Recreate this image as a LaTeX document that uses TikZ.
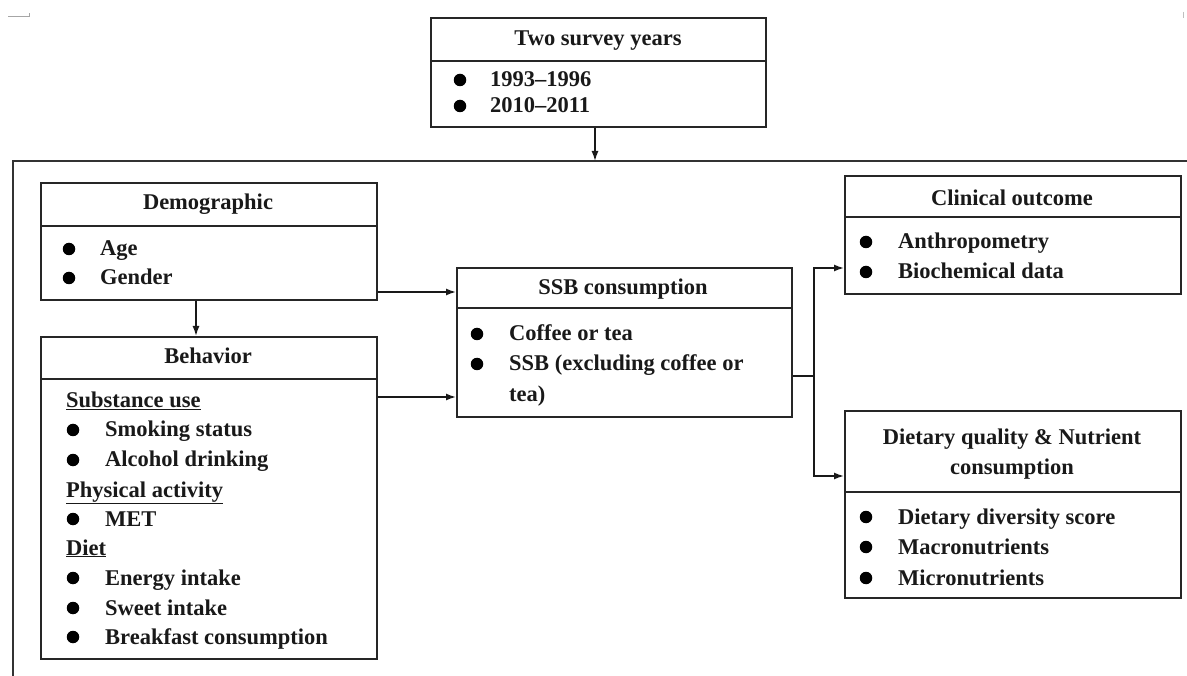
\documentclass[tikz,border=0pt]{standalone}
\usepackage{fontspec}
\setmainfont{Liberation Serif}
\usetikzlibrary{arrows.meta,calc}
\newcommand{\dfont}{\fontsize{22.5pt}{29.5pt}\selectfont\bfseries}
\begin{document}
\begin{tikzpicture}[x=1pt,y=-1pt,
  box/.style={draw=black!85, line width=1.8pt, anchor=north west, inner sep=0pt, rectangle},
  divl/.style={draw=black!85, line width=1.8pt},
  conn/.style={draw=black!90, line width=1.5pt},
  arr/.style={conn, -{Latex[length=10pt,width=7pt]}},
  txt/.style={anchor=base west, inner sep=0pt, font=\dfont, text=black!90},
  ttl/.style={anchor=base, inner sep=0pt, font=\dfont, text=black!90},
  bul/.style={circle, fill=black, inner sep=0pt, minimum size=12.5pt}
]
\useasboundingbox (0,0) rectangle (1187,676);
\fill[white] (0,0) rectangle (1187,676);

% faint scan marks
\draw[black!35, line width=1pt] (8,17) -- (29,17) -- (29,13);
\draw[black!25, line width=1pt] (1183,12) -- (1183,18);

% outer frame (only top and left visible)
\coordinate (frTR) at (1187,161);
\coordinate (frTL) at (13,161);
\coordinate (frBL) at (13,676);
\draw[draw=black!80, line width=1.8pt] (frTR) -- (frTL) -- (frBL);

% ---------- boxes ----------
\node[box, minimum width=335pt, minimum height=109pt] (top) at (430,17) {};
\draw[divl] (430,61) -- (765,61);
\node[ttl] (topT) at (598,46) {Two survey years};
\node[bul] (topB1) at (460,80) {};
\node[txt] (topL1) at (490,87) {1993--1996};
\node[bul] (topB2) at (460,106) {};
\node[txt] (topL2) at (490,113) {2010--2011};

\node[box, minimum width=336pt, minimum height=117pt] (demo) at (40,182) {};
\draw[divl] (40,226) -- (376,226);
\node[ttl] (demoT) at (208,210) {Demographic};
\node[bul] (demoB1) at (69,249) {};
\node[txt] (demoL1) at (100,256) {Age};
\node[bul] (demoB2) at (69,278) {};
\node[txt] (demoL2) at (100,285) {Gender};

\node[box, minimum width=336pt, minimum height=322pt] (behav) at (40,336) {};
\draw[divl] (40,379) -- (376,379);
\node[ttl] (behT) at (208,364) {Behavior};
\node[txt] (behH1) at (66,408) {\underline{Substance use}};
\node[bul] (behB1) at (73,430) {};
\node[txt] (behL1) at (105,437) {Smoking status};
\node[bul] (behB2) at (73,460) {};
\node[txt] (behL2) at (105,467) {Alcohol drinking};
\node[txt] (behH2) at (66,497) {\underline{Physical activity}};
\node[bul] (behB3) at (73,519) {};
\node[txt] (behL3) at (105,526) {MET};
\node[txt] (behH3) at (66,555) {\underline{Diet}};
\node[bul] (behB4) at (73,578) {};
\node[txt] (behL4) at (105,585) {Energy intake};
\node[bul] (behB5) at (73,608) {};
\node[txt] (behL5) at (105,615) {Sweet intake};
\node[bul] (behB6) at (73,637) {};
\node[txt] (behL6) at (105,644) {Breakfast consumption};

\node[box, minimum width=335pt, minimum height=149pt] (ssb) at (456,267) {};
\draw[divl] (456,308) -- (791,308);
\node[ttl] (ssbT) at (623,295) {SSB consumption};
\node[bul] (ssbB1) at (477,334) {};
\node[txt] (ssbL1) at (509,341) {Coffee or tea};
\node[bul] (ssbB2) at (477,364) {};
\node[txt] (ssbL2) at (509,371) {SSB (excluding coffee or};
\node[txt] (ssbL3) at (509,402) {tea)};

\node[box, minimum width=336pt, minimum height=118pt] (clin) at (844,175) {};
\draw[divl] (844,217) -- (1180,217);
\node[ttl] (clinT) at (1012,206) {Clinical outcome};
\node[bul] (clinB1) at (866,242) {};
\node[txt] (clinL1) at (898,249) {Anthropometry};
\node[bul] (clinB2) at (866,272) {};
\node[txt] (clinL2) at (898,279) {Biochemical data};

\node[box, minimum width=336pt, minimum height=187pt] (diet) at (844,410) {};
\draw[divl] (844,492) -- (1180,492);
\node[ttl] (dietT1) at (1012,445) {Dietary quality \& Nutrient};
\node[ttl] (dietT2) at (1012,474) {consumption};
\node[bul] (dietB1) at (866,517) {};
\node[txt] (dietL1) at (898,524) {Dietary diversity score};
\node[bul] (dietB2) at (866,547) {};
\node[txt] (dietL2) at (898,554) {Macronutrients};
\node[bul] (dietB3) at (866,578) {};
\node[txt] (dietL3) at (898,585) {Micronutrients};

% ---------- connectors ----------
\coordinate (ft) at (595,161);
\draw[arr] (ft |- top.south) -- (ft);

\coordinate (dx) at (196,0);
\draw[arr] (dx |- demo.south) -- (dx |- behav.north);

\coordinate (y1) at (0,292);
\draw[arr] (demo.east |- y1) -- (ssb.west |- y1);
\coordinate (y2) at (0,397);
\draw[arr] (behav.east |- y2) -- (ssb.west |- y2);

\coordinate (sy) at (0,376);
\coordinate (jx) at (814,0);
\coordinate (j) at (jx |- sy);
\coordinate (ya) at (0,268);
\coordinate (yb) at (0,476);
\draw[conn] (ssb.east |- sy) -- (j);
\draw[arr] (j) -- (jx |- ya) -- (clin.west |- ya);
\draw[arr] (j) -- (jx |- yb) -- (diet.west |- yb);
\end{tikzpicture}
\end{document}
